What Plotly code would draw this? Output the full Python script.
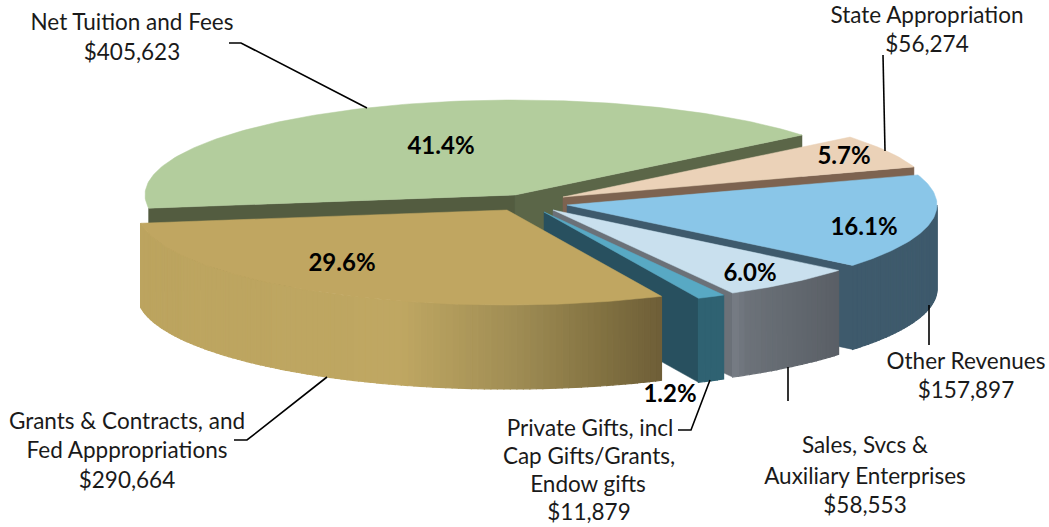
import math
import plotly.graph_objects as go

# ---- data
names = ["Net Tuition and Fees", "State Appropriation", "Other Revenues",
         "Sales, Svcs & Auxiliary Enterprises", "Private Gifts, incl Cap Gifts/Grants, Endow gifts",
         "Grants & Contracts, and Fed Apppropriations"]
values = [405623, 56274, 157897, 58553, 11879, 290664]
percents = ["41.4%", "5.7%", "16.1%", "6.0%", "1.2%", "29.6%"]
label_lines = [
    ["Net Tuition and Fees", "$405,623"],
    ["State Appropriation", "$56,274"],
    ["Other Revenues", "$157,897"],
    ["Sales, Svcs &", "Auxiliary Enterprises", "$58,553"],
    ["Private Gifts, incl", "Cap Gifts/Grants,", "Endow gifts", "$11,879"],
    ["Grants & Contracts, and", "Fed Apppropriations", "$290,664"],
]

# ---- geometry and style
W, H = 1049, 527
RX, RY, DEPTH = 370, 95, 84
START_DEG = 262.0  # the first slice begins here, clockwise from the top
apex = [(515, 195), (563, 197), (567, 205), (553, 210), (544, 212), (507, 210)]
top_col = ["#b3cd9d", "#ebd2b8", "#8ac6e8", "#c9e0ee", "#58a9c4", "#c0a661"]
cut_col = ["#535c40", "#7d6350", "#3e5a6c", "#6b7178", "#28505f", None]
wall_stops = [
    None, None,
    [(0, "#3e5a6c"), (1, "#3e5a6c")],
    [(0, "#7a8088"), (0.15, "#6c7279"), (1, "#5a5f66")],
    [(0, "#2f6272"), (1, "#2f6272")],
    [(0, "#bca45f"), (0.5, "#bfa762"), (0.72, "#a08d54"), (0.9, "#807040"), (1, "#6f5f38")],
]
wall_x = [None, None, (815, 937), (730, 837), (698, 722), (138, 660)]
draw_order = [0, 1, 2, 3, 4, 5]
pct_pos = [(441, 148), (844, 158), (864, 229), (750, 275), (670, 396), (342, 265)]
label_pos = [
    [(132, 24), (132, 54)],
    [(927, 17), (927, 46)],
    [(966, 363), (966, 392)],
    [(865, 447), (865, 478), (865, 507)],
    [(590, 430), (589, 458), (588, 486), (589, 514)],
    [(127, 423), (127, 452), (127, 482)],
]
leaders = [
    [(229, 43), (241, 43), (367, 108)],
    [(883, 55), (885, 151)],
    [(929, 305), (929, 345)],
    [(788, 367), (788, 401)],
    [(710, 380), (691, 430), (678, 430)],
    [(327, 377), (247, 440), (234, 440)],
]

total = sum(values)
spans = [v / total * 360 for v in values]
starts = []
a = START_DEG
for s in spans:
    starts.append(a % 360)
    a += s


def rim(c, deg):
    t = math.radians(deg)
    return c[0] + RX * math.sin(t), c[1] - RY * math.cos(t)


def hex2rgb(h):
    return tuple(int(h[i:i + 2], 16) for i in (1, 3, 5))


def ramp(stops, f):
    f = max(0, min(1, f))
    for (f0, c0), (f1, c1) in zip(stops, stops[1:]):
        if f <= f1:
            k = 0 if f1 == f0 else (f - f0) / (f1 - f0)
            p, q = hex2rgb(c0), hex2rgb(c1)
            return "rgb(%d,%d,%d)" % tuple(round(p[i] + (q[i] - p[i]) * k) for i in range(3))
    return stops[-1][1]


fig = go.Figure()


def poly(pts, color, lw=0.5):
    xs = [p[0] for p in pts] + [pts[0][0]]
    ys = [p[1] for p in pts] + [pts[0][1]]
    fig.add_trace(go.Scatter(x=xs, y=ys, mode="lines", fill="toself", fillcolor=color,
                             line=dict(color=color, width=lw), hoverinfo="skip", showlegend=False))


def down(p):
    return p[0], p[1] + DEPTH


for i in draw_order:
    c = apex[i]
    a0, a1 = starts[i], starts[i] + spans[i]
    # cut faces that look toward the viewer
    if cut_col[i]:
        if i == 0:
            p = rim(c, a0)
            poly([c, p, down(p), down(c)], cut_col[i])
        p = rim(c, a1)
        poly([c, p, down(p), down(c)], "#5b6648" if i == 0 else cut_col[i])
    # outer wall, as narrow strips shaded along x
    if wall_stops[i]:
        lo, hi = max(a0, 90), min(a1, 270)
        n = max(2, int((hi - lo) / 1.0))
        for k in range(n):
            d0 = lo + (hi - lo) * k / n
            d1 = lo + (hi - lo) * (k + 1) / n
            p0, p1 = rim(c, d0), rim(c, d1)
            f = ((p0[0] + p1[0]) / 2 - wall_x[i][0]) / (wall_x[i][1] - wall_x[i][0])
            poly([p0, p1, down(p1), down(p0)], ramp(wall_stops[i], f), lw=1.2)
    # top face
    n = max(2, int(spans[i] / 1.0))
    poly([c] + [rim(c, a0 + spans[i] * k / n) for k in range(n + 1)], top_col[i])

for pts in leaders:
    fig.add_trace(go.Scatter(x=[p[0] for p in pts], y=[p[1] for p in pts], mode="lines",
                             line=dict(color="#000000", width=1.6), hoverinfo="skip", showlegend=False))

for txt, pos in zip(percents, pct_pos):
    fig.add_trace(go.Scatter(x=[pos[0]], y=[pos[1]], mode="text", text=["<b>%s</b>" % txt],
                             textposition="middle center", hoverinfo="skip", showlegend=False,
                             textfont=dict(family="Lato", size=24, color="#000000")))
for lines, poss in zip(label_lines, label_pos):
    fig.add_trace(go.Scatter(x=[p[0] for p in poss], y=[p[1] for p in poss], mode="text", text=lines,
                             textposition="middle center", hoverinfo="skip", showlegend=False,
                             textfont=dict(family="Lato", size=22.5, color="#1a1a1a")))

fig.update_layout(
    width=W, height=H, margin=dict(l=0, r=0, t=0, b=0), autosize=False,
    paper_bgcolor="#ffffff", plot_bgcolor="#ffffff", showlegend=False,
    xaxis=dict(range=[0, W], visible=False, fixedrange=True),
    yaxis=dict(range=[H, 0], visible=False, fixedrange=True),
)
fig.write_html("out.html", config={"displayModeBar": False},
               post_script="document.body.style.margin='0';document.body.style.overflow='hidden';")
